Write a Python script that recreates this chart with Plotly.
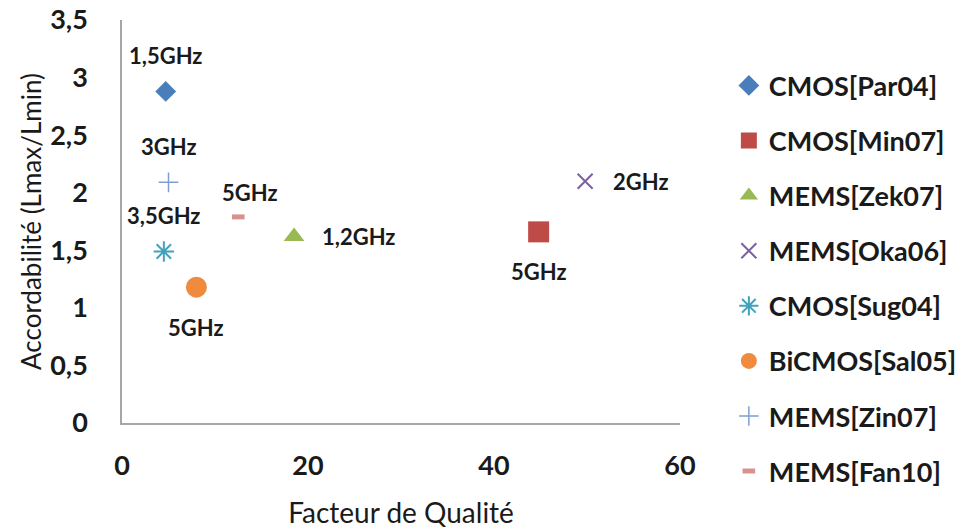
import plotly.graph_objects as go

# ---- data ----
series_names = ["CMOS[Par04]", "CMOS[Min07]", "MEMS[Zek07]", "MEMS[Oka06]",
                "CMOS[Sug04]", "BiCMOS[Sal05]", "MEMS[Zin07]", "MEMS[Fan10]"]
quality_factor = [4.7, 44.8, 18.5, 49.8, 4.5, 8.0, 5.0, 12.5]
tunability = [2.88, 1.66, 1.62, 2.10, 1.49, 1.18, 2.09, 1.79]
freq_labels = ["1,5GHz", "5GHz", "1,2GHz", "2GHz", "3,5GHz", "5GHz", "3GHz", "5GHz"]
label_side = ["above", "below", "right", "right", "above", "below", "above", "above"]

x_tickvals = [0, 20, 40, 60]
x_ticktext = ["0", "20", "40", "60"]
y_tickvals = [0, 0.5, 1, 1.5, 2, 2.5, 3, 3.5]
y_ticktext = ["0", "0,5", "1", "1,5", "2", "2,5", "3", "3,5"]

# ---- styles ----
symbols = ["diamond", "square", "triangle-up", "x-thin-open", "asterisk-open",
           "circle", "cross-thin-open", "line-ew-open"]
colors = ["#4A7EBB", "#BE4B48", "#98B954", "#7D60A0", "#3FA3BC",
          "#F08A3E", "#7F9FD3", "#D9918F"]
sizes = [16, 21, 18, 15, 17, 21, 14, 9]
line_w = [0, 0, 0, 2, 2, 0, 1.5, 5]

FONT = "Lato"
TXT = "#1a1a1a"

fig = go.Figure()
for i, name in enumerate(series_names):
    fig.add_trace(go.Scatter(
        x=[quality_factor[i]], y=[tunability[i]], mode="markers", name=name,
        legendgroup=name,
        marker=dict(symbol=symbols[i], color=colors[i], size=sizes[i],
                    line=dict(color=colors[i], width=line_w[i])),
        cliponaxis=False,
    ))

shift = {"above": (0, 36, "center"), "below": (0, -40, "center"), "right": (26, 0, "left")}
for i, lab in enumerate(freq_labels):
    xs, ys, anc = shift[label_side[i]]
    if series_names[i] == "MEMS[Fan10]":
        xs, ys = 12, 24
    fig.add_annotation(x=quality_factor[i], y=tunability[i], text=lab,
                       showarrow=False, xanchor=anc, yanchor="middle",
                       xshift=xs, yshift=ys,
                       font=dict(family=FONT, size=22, color=TXT, weight="bold"))

fig.update_layout(
    width=965, height=529,
    margin=dict(l=122, r=285, t=20, b=106),
    paper_bgcolor="white", plot_bgcolor="white",
    showlegend=True,
    legend=dict(x=0.7553, xref="container", xanchor="left",
                y=0.884, yref="container", yanchor="top",
                font=dict(family=FONT, size=27, color=TXT, weight="bold"),
                tracegroupgap=17, itemsizing="trace", maxheight=1,
                bgcolor="rgba(0,0,0,0)"),
    font=dict(family=FONT, color=TXT),
)
fig.update_xaxes(range=[0, 60], tickvals=x_tickvals, ticktext=x_ticktext,
                 automargin=False, ticklabeloverflow="allow",
                 showgrid=False, zeroline=False, showline=True,
                 linecolor="#A6A6A6", linewidth=1.5, ticks="",
                 ticklabelstandoff=18,
                 tickfont=dict(family=FONT, size=27, color=TXT, weight="bold"),
                 title=dict(text="Facteur de Qualité", standoff=23,
                            font=dict(family=FONT, size=28, color=TXT)))
fig.update_yaxes(range=[0, 3.5], tickvals=y_tickvals, ticktext=y_ticktext,
                 automargin=False, ticklabeloverflow="allow",
                 showgrid=False, zeroline=False, showline=True,
                 linecolor="#A6A6A6", linewidth=1.5, ticks="",
                 ticklabelstandoff=27,
                 tickfont=dict(family=FONT, size=27, color=TXT, weight="bold"),
                 title=dict(text="Accordabilité (Lmax/Lmin)", standoff=1,
                            font=dict(family=FONT, size=26, color=TXT)))

fig.write_html("out.html", config={"displayModeBar": False},
               post_script="document.body.style.margin='0';")
